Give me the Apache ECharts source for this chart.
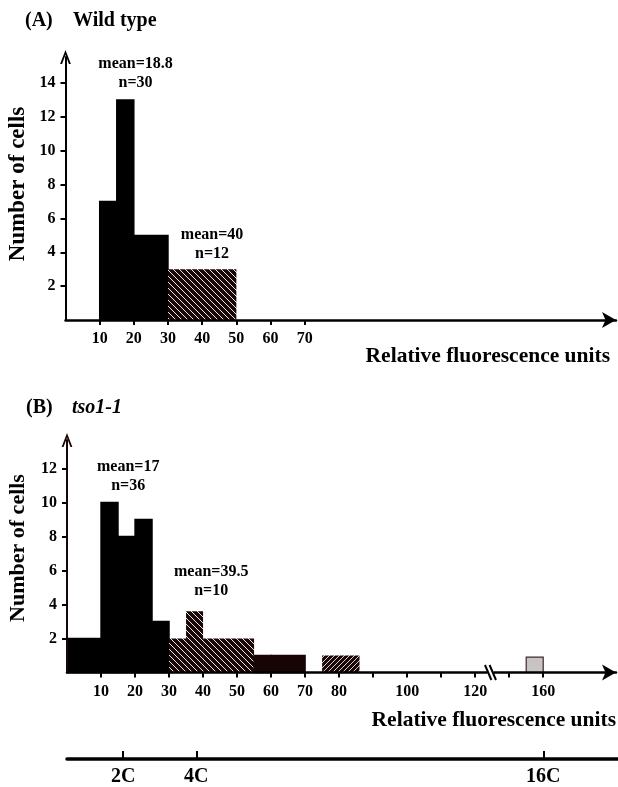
<!DOCTYPE html>
<html><head><meta charset="utf-8">
<script src="https://cdn.jsdelivr.net/npm/echarts@6/dist/echarts.min.js"></script>
<style>html,body{margin:0;padding:0;background:#fff}#c{width:618px;height:787px}</style>
</head><body><div id="c"></div><script>
// ---------- Panel A (Wild type) ----------
const binStartA = [10, 15, 20, 30];
const binEndA   = [15, 20, 30, 50];
const countsA   = [7, 13, 5, 3];
const fillA     = ['solid', 'solid', 'solid', 'hatch'];
const xTicksA   = [10, 20, 30, 40, 50, 60, 70];
const yTicksA   = [2, 4, 6, 8, 10, 12, 14];
const noteXA    = [20.5, 42.9];
const noteYA    = [14.6, 4.45];
const noteTextA = ['mean=18.8\nn=30', 'mean=40\nn=12'];

// ---------- Panel B (tso1-1) ----------
const binStartB = [0, 10, 15, 20, 25, 30, 35, 40, 55, 60, 75, 155];
const binEndB   = [10, 15, 20, 25, 30, 35, 40, 55, 60, 70, 86, 160];
const countsB   = [2, 10, 8, 9, 3, 2, 3.6, 2, 1, 1, 1, 0.9];
const fillB     = ['solid','solid','solid','solid','solid','hatch','hatch','hatch','dark','dark','hatch2','gray'];
const xTicksB   = [10, 20, 30, 40, 50, 60, 70, 80, 90, 100, 110, 120, 150, 160];
const xLabelsB  = [10, 20, 30, 40, 50, 60, 70, 80, 100, 120, 160];
const yTicksB   = [2, 4, 6, 8, 10, 12];
const noteXB    = [18.0, 42.4];
const noteYB    = [11.55, 5.37];
const noteTextB = ['mean=17\nn=36', 'mean=39.5\nn=10'];
const breakAfter = 125;   // axis break between 125 and 145
const breakSkip  = 20;

// ---------- DNA content scale ----------
const cLabels = ['2C', '4C', '16C'];
const cValues = [16.5, 38, 160];

function toDisp(v) { return v >= breakAfter + breakSkip ? v - breakSkip : v; }
function toReal(v) { return v > breakAfter ? v + breakSkip : v; }

function makeHatch(dir, s, bg, fg, lw) {
  const c = document.createElement('canvas');
  c.width = s; c.height = s;
  const g = c.getContext('2d');
  g.fillStyle = bg; g.fillRect(0, 0, s, s);
  g.strokeStyle = fg; g.lineWidth = lw;
  g.beginPath();
  for (let k = -1; k <= 1; k++) {
    if (dir === 'back') { g.moveTo(k * s, 0); g.lineTo(k * s + s, s); }
    else { g.moveTo(k * s, s); g.lineTo(k * s + s, 0); }
  }
  g.stroke();
  return c;
}
const hatchBack = makeHatch('back', 6, '#1a0808', '#ece6e6', 1);
const hatchFwd = makeHatch('fwd', 5, '#1a0808', '#d8d0d0', 1);

function styleFor(kind) {
  if (kind === 'hatch') return { fill: { image: hatchBack, repeat: 'repeat' } };
  if (kind === 'hatch2') return { fill: { image: hatchFwd, repeat: 'repeat' } };
  if (kind === 'dark') return { fill: '#170404', stroke: '#170404', lineWidth: 1.4 };
  if (kind === 'gray') return { fill: '#c9c4c4', stroke: '#3a2a2a', lineWidth: 1.2 };
  return { fill: '#000000', stroke: '#000000', lineWidth: 1.4 };
}

function barSeries(idx, starts, ends, counts, kinds) {
  return {
    type: 'custom', xAxisIndex: idx, yAxisIndex: idx, z: 2,
    encode: { x: [0, 1], y: 2 },
    data: starts.map((s, i) => [toDisp(s), toDisp(ends[i]), counts[i]]),
    renderItem: function (params, api) {
      const p0 = api.coord([api.value(0), 0]);
      const p1 = api.coord([api.value(1), api.value(2)]);
      return {
        type: 'rect',
        shape: { x: p0[0], y: p1[1], width: p1[0] - p0[0], height: p0[1] - p1[1] },
        style: styleFor(kinds[params.dataIndex])
      };
    }
  };
}

function noteSeries(idx, xs, ys, texts) {
  return {
    type: 'custom', xAxisIndex: idx, yAxisIndex: idx, z: 4,
    data: xs.map((x, i) => [x, ys[i]]),
    renderItem: function (params, api) {
      const p = api.coord([api.value(0), api.value(1)]);
      return {
        type: 'text',
        style: {
          text: texts[params.dataIndex], x: p[0], y: p[1],
          align: 'center', verticalAlign: 'middle', lineHeight: 19,
          font: 'bold 16px "Liberation Serif"', fill: '#000'
        }
      };
    }
  };
}

const serif = 'Liberation Serif';
const tickLbl = { fontFamily: serif, fontWeight: 'bold', fontSize: 16, color: '#000' };

const arrowY = 'path://M0,13 L5,0 L10,13 L8.2,13 L5,4.5 L1.8,13 Z';

const option = {
  animation: false,
  backgroundColor: '#fff',
  grid: [
    { left: 65.5, top: 57, width: 550.5, height: 263 },
    { left: 67, top: 440, width: 549, height: 232.5 },
    { left: 67, top: 700, width: 551, height: 59 }
  ],
  xAxis: [
    {
      gridIndex: 0, type: 'value', min: 0, max: 161.1, z: 5,
      splitLine: { show: false },
      axisLine: { onZero: false, symbol: ['none', 'arrow'], symbolSize: [12, 14], lineStyle: { color: '#000', width: 2.5 } },
      axisTick: { show: true, customValues: xTicksA, length: 5, lineStyle: { color: '#000', width: 2 } },
      axisLabel: Object.assign({ customValues: xTicksA, margin: 11 }, tickLbl)
    },
    {
      gridIndex: 1, type: 'value', min: 0, max: 161.4, z: 5,
      splitLine: { show: false },
      axisLine: { onZero: false, symbol: ['none', 'arrow'], symbolSize: [12, 14], lineStyle: { color: '#000', width: 2.5 } },
      axisTick: { show: true, customValues: xTicksB.map(toDisp), length: 5, lineStyle: { color: '#000', width: 2 } },
      axisLabel: Object.assign({ customValues: xLabelsB.map(toDisp), margin: 11, formatter: v => String(toReal(v)) }, tickLbl)
    },
    {
      gridIndex: 2, type: 'value', min: 0, max: 161.96, z: 5,
      splitLine: { show: false },
      axisLine: { onZero: false, lineStyle: { color: '#000', width: 3.5 } },
      axisTick: { show: true, inside: true, customValues: cValues.map(toDisp), length: 8, lineStyle: { color: '#000', width: 2 } },
      axisLabel: {
        customValues: cValues.map(toDisp), margin: 8,
        formatter: v => cLabels[cValues.map(toDisp).indexOf(v)] || '',
        fontFamily: serif, fontWeight: 'bold', fontSize: 20, color: '#000'
      }
    }
  ],
  yAxis: [
    {
      gridIndex: 0, type: 'value', min: 0, max: 15.54, z: 5,
      splitLine: { show: false },
      axisLine: { onZero: false, symbol: ['none', arrowY], symbolSize: [11, 14], lineStyle: { color: '#000', width: 2 } },
      axisTick: { show: true, customValues: yTicksA, length: 5, lineStyle: { color: '#000', width: 2 } },
      axisLabel: Object.assign({ customValues: yTicksA, margin: 10 }, tickLbl)
    },
    {
      gridIndex: 1, type: 'value', min: 0, max: 13.68, z: 5,
      splitLine: { show: false },
      axisLine: { onZero: false, symbol: ['none', arrowY], symbolSize: [11, 14], lineStyle: { color: '#1a0606', width: 2 } },
      axisTick: { show: true, customValues: yTicksB, length: 5, lineStyle: { color: '#000', width: 2 } },
      axisLabel: Object.assign({ customValues: yTicksB, margin: 10 }, tickLbl)
    },
    { gridIndex: 2, type: 'value', show: false, min: 0, max: 1 }
  ],
  series: [
    barSeries(0, binStartA, binEndA, countsA, fillA),
    barSeries(1, binStartB, binEndB, countsB, fillB),
    noteSeries(0, noteXA, noteYA, noteTextA),
    noteSeries(1, noteXB, noteYB, noteTextB),
    {
      type: 'custom', xAxisIndex: 1, yAxisIndex: 1, z: 6,
      data: [[breakAfter - 0.5, 0]],
      renderItem: function (params, api) {
        const p = api.coord([api.value(0), 0]);
        const mk = dx => ({
          type: 'line',
          shape: { x1: p[0] + dx - 3.2, y1: p[1] - 7.5, x2: p[0] + dx + 3.2, y2: p[1] + 7.5 },
          style: { stroke: '#000', lineWidth: 2 }
        });
        return { type: 'group', children: [
          { type: 'rect', shape: { x: p[0] - 3, y: p[1] - 2, width: 6, height: 4 }, style: { fill: '#fff' } },
          mk(-2.3), mk(2.3)
        ] };
      }
    }
  ],
  graphic: [
    { type: 'text', left: 25, top: 11, style: { text: '(A)', font: 'bold 20px "Liberation Serif"', fill: '#000' } },
    { type: 'text', left: 73, top: 11, style: { text: 'Wild type', font: 'bold 20px "Liberation Serif"', fill: '#000' } },
    { type: 'text', left: 26, top: 398, style: { text: '(B)', font: 'bold 20px "Liberation Serif"', fill: '#000' } },
    { type: 'text', left: 72, top: 398, style: { text: 'tso1-1', font: 'italic bold 20px "Liberation Serif"', fill: '#000' } },
    { type: 'text', x: 610, y: 356, style: { text: 'Relative fluorescence units', font: 'bold 21.5px "Liberation Serif"', fill: '#000', textAlign: 'right', textVerticalAlign: 'middle' } },
    { type: 'text', x: 616, y: 720, style: { text: 'Relative fluorescence units', font: 'bold 21.5px "Liberation Serif"', fill: '#000', textAlign: 'right', textVerticalAlign: 'middle' } },
    { type: 'text', x: 18, y: 184, rotation: Math.PI / 2, style: { text: 'Number of cells', font: 'bold 23px "Liberation Serif"', fill: '#000', textAlign: 'center', textVerticalAlign: 'middle' } },
    { type: 'text', x: 18, y: 548, rotation: Math.PI / 2, style: { text: 'Number of cells', font: 'bold 22px "Liberation Serif"', fill: '#000', textAlign: 'center', textVerticalAlign: 'middle' } }
  ]
};

const chart = echarts.init(document.getElementById('c'), null, { renderer: 'canvas' });
chart.setOption(option);
</script></body></html>
